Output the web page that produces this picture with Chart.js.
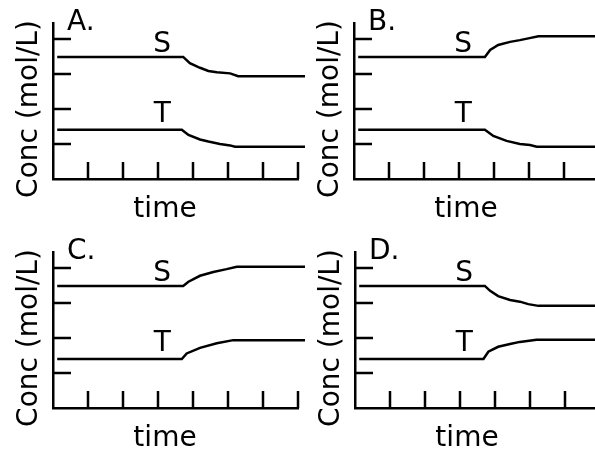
<!DOCTYPE html>
<html>
<head>
<meta charset="utf-8">
<script src="https://cdn.jsdelivr.net/npm/chart.js@4.4.1/dist/chart.umd.min.js"></script>
<style>
  html, body { margin: 0; padding: 0; background: #fff; overflow: hidden; }
  #wrap { position: relative; width: 595px; height: 451px; overflow: hidden; }
  canvas { position: absolute; }
</style>
</head>
<body>
<div id="wrap">
  <canvas id="pA" width="310" height="225" style="left:0;top:0"></canvas>
  <canvas id="pB" width="310" height="225" style="left:297px;top:0"></canvas>
  <canvas id="pC" width="310" height="226" style="left:0;top:225px"></canvas>
  <canvas id="pD" width="310" height="226" style="left:297px;top:225px"></canvas>
</div>
<script>
// tick positions (time units / concentration units)
const xTicks = [1, 2, 3, 4, 5, 6, 7];
const yTicks = [1, 2, 3, 4];
const panelLabels = ['A.', 'B.', 'C.', 'D.'];
const seriesNames = ['S', 'T'];

// panel A
const aS_time = [0.12, 3.72, 3.91, 4.2, 4.44, 4.68, 5.06, 5.29, 7.2];
const aS_conc = [3.49, 3.49, 3.31, 3.18, 3.09, 3.05, 3.02, 2.94, 2.94];
const aT_time = [0.12, 3.68, 3.87, 4.2, 4.44, 4.77, 5.06, 5.2, 7.2];
const aT_conc = [1.41, 1.41, 1.26, 1.13, 1.07, 1.0, 0.96, 0.92, 0.92];
// panel B
const bS_time = [0.12, 3.74, 3.89, 4.12, 4.46, 4.74, 4.98, 5.27, 7.2];
const bS_conc = [3.49, 3.49, 3.69, 3.83, 3.92, 3.97, 4.02, 4.08, 4.08];
const bT_time = [0.12, 3.74, 3.98, 4.36, 4.74, 5.03, 5.22, 7.2];
const bT_conc = [1.41, 1.41, 1.23, 1.09, 1.0, 0.97, 0.92, 0.92];
// panel C
const cS_time = [0.12, 3.72, 3.87, 4.2, 4.58, 4.96, 5.25, 7.2];
const cS_conc = [3.49, 3.49, 3.61, 3.78, 3.89, 3.97, 4.04, 4.04];
const cT_time = [0.12, 3.68, 3.82, 4.2, 4.68, 5.15, 7.2];
const cT_conc = [1.4, 1.4, 1.56, 1.72, 1.85, 1.94, 1.94];
// panel D
const dS_time = [0.12, 3.71, 3.86, 4.09, 4.43, 4.71, 4.95, 5.24, 7.2];
const dS_conc = [3.49, 3.49, 3.35, 3.2, 3.09, 3.04, 2.97, 2.92, 2.92];
const dT_time = [0.12, 3.67, 3.81, 4.09, 4.43, 4.71, 5.19, 7.2];
const dT_conc = [1.4, 1.4, 1.61, 1.75, 1.83, 1.89, 1.95, 1.95];

const FONT = '28px "DejaVu Sans"';
const INK = '#000';

function pts(t, c) {
  return t.map((x, i) => ({ x: x, y: c[i] }));
}

// inward ticks, panel letter, curve names and axis titles
const decor = {
  id: 'decor',
  afterDraw(chart, args, opts) {
    const ctx = chart.ctx;
    const { left, bottom, top } = chart.chartArea;
    const xs = chart.scales.x, ys = chart.scales.y;
    ctx.save();
    ctx.strokeStyle = INK;
    ctx.lineWidth = 2.5;
    ctx.beginPath();
    yTicks.forEach(v => {
      const py = ys.getPixelForValue(v);
      ctx.moveTo(left, py);
      ctx.lineTo(left + 18, py);
    });
    xTicks.forEach(v => {
      const px = xs.getPixelForValue(v);
      ctx.moveTo(px, bottom);
      ctx.lineTo(px, bottom - 17);
    });
    ctx.stroke();

    ctx.fillStyle = INK;
    ctx.font = FONT;
    ctx.textBaseline = 'alphabetic';
    ctx.textAlign = 'left';
    ctx.fillText(opts.letter, left + 14, top + 7);

    ctx.textAlign = 'center';
    ctx.fillText(seriesNames[0], xs.getPixelForValue(3.12), ys.getPixelForValue(3.64));
    ctx.fillText(seriesNames[1], xs.getPixelForValue(3.12), ys.getPixelForValue(1.64));

    ctx.fillText('time', left + 112, bottom + 38);

    ctx.translate(left - 16, (top + bottom) / 2 + 8);
    ctx.rotate(-Math.PI / 2);
    ctx.fillText('Conc (mol/L)', 0, 0);
    ctx.restore();
  }
};

function makePanel(id, letter, sT, sC, tT, tC, pad) {
  const line = (t, c) => ({
    data: pts(t, c),
    borderColor: INK,
    borderWidth: 2.5,
    pointRadius: 0,
    tension: 0,
    fill: false,
    clip: false
  });
  new Chart(document.getElementById(id), {
    type: 'line',
    data: { datasets: [line(sT, sC), line(tT, tC)] },
    options: {
      responsive: false,
      animation: false,
      layout: { padding: pad },
      plugins: {
        legend: { display: false },
        tooltip: { enabled: false },
        decor: { letter: letter }
      },
      scales: {
        x: {
          type: 'linear', min: 0, max: 7,
          ticks: { display: false },
          grid: { display: false, drawTicks: false },
          border: { display: true, color: INK, width: 2.5 }
        },
        y: {
          type: 'linear', min: 0, max: 4.46,
          ticks: { display: false },
          grid: { display: false, drawTicks: false },
          border: { display: true, color: INK, width: 2.5 }
        }
      }
    },
    plugins: [decor]
  });
}

makePanel('pA', panelLabels[0], aS_time, aS_conc, aT_time, aT_conc, { left: 53, top: 23, right: 12, bottom: 46 });
makePanel('pB', panelLabels[1], bS_time, bS_conc, bT_time, bT_conc, { left: 57, top: 23, right: 8, bottom: 46 });
makePanel('pC', panelLabels[2], cS_time, cS_conc, cT_time, cT_conc, { left: 53, top: 27, right: 12, bottom: 43 });
makePanel('pD', panelLabels[3], dS_time, dS_conc, dT_time, dT_conc, { left: 58, top: 27, right: 7, bottom: 43 });
</script>
</body>
</html>
